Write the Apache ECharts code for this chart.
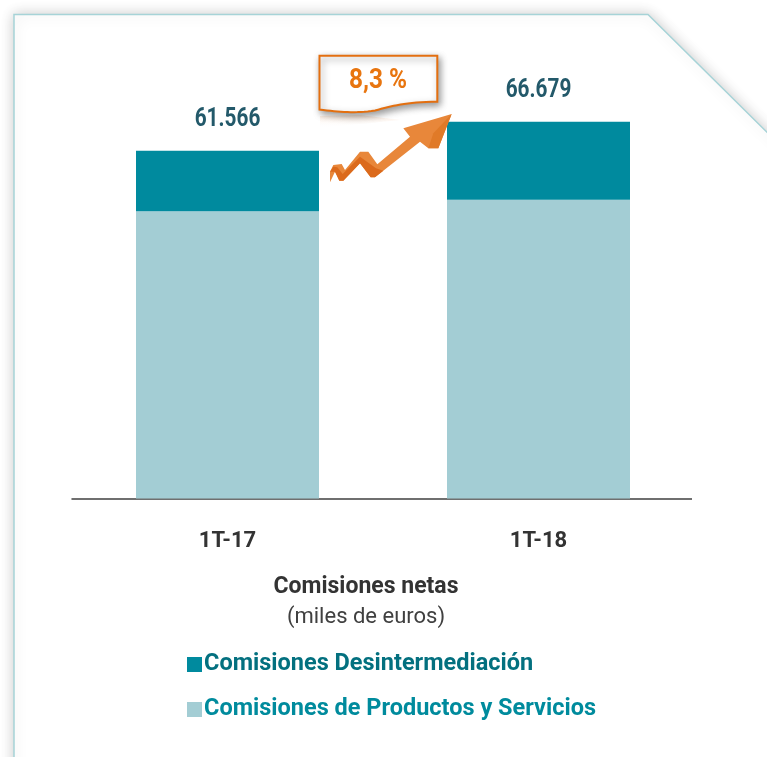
<!DOCTYPE html>
<html><head><meta charset="utf-8">
<style>html,body{margin:0;padding:0;background:#fff}#c{width:767px;height:757px}</style>
<script src="https://cdn.jsdelivr.net/npm/echarts@6/dist/echarts.min.js"></script></head>
<body><div id="c"></div>
<script>
const categories = ['1T-17', '1T-18'];
const productos = [50850, 52870];
const desintermediacion = [10716, 13809];
const totals = ['61.566', '66.679'];
const growthLabel = '8,3 %';
const nameProductos = 'Comisiones de Productos y Servicios';
const nameDesinter = 'Comisiones Desintermediación';

const FONT = 'Roboto,"Liberation Sans",sans-serif';
const chart = echarts.init(document.getElementById('c'), null, {renderer: 'canvas'});
function z(pts){return pts.map(p => [300 + p[0]/3, 40 + p[1]/3]);}
function bez(p0,p1,p2,p3){
  const out = [];
  for (let i = 1; i <= 16; i++) {
    const t = i/16, u = 1-t;
    out.push([0,1].map(k => u*u*u*p0[k] + 3*u*u*t*p1[k] + 3*u*t*t*p2[k] + t*t*t*p3[k]));
  }
  return out;
}
const calloutPts = [[319.5,55.7],[437.3,55.7],[437.3,101.7]]
  .concat(bez([437.3,101.7],[405,102],[392,106],[375,110.5]))
  .concat(bez([375,110.5],[355,113.5],[340,112],[319.5,109.5]));

chart.setOption({
  animation: false,
  backgroundColor: '#fff',
  title: {
    text: 'Comisiones netas', subtext: '(miles de euros)',
    left: 361, textAlign: 'center', top: 571, itemGap: 7,
    textStyle: {fontFamily: FONT, fontSize: 23, fontWeight: 'bold', color: '#333333'},
    subtextStyle: {fontFamily: FONT, fontSize: 22, fontWeight: 'normal', color: '#404040'}
  },
  legend: {
    orient: 'vertical', left: 187, top: 652.5, itemWidth: 15, itemHeight: 15, itemGap: 21, padding: 0,
    icon: 'rect', selectedMode: false,
    data: [
      {name: nameDesinter, textStyle: {color: '#03707F'}},
      {name: nameProductos, textStyle: {color: '#008B9D'}}
    ],
    textStyle: {fontFamily: FONT, fontSize: 23.5, fontWeight: 'bold', padding: [5,0,0,-3]}
  },
  grid: {left: 72, width: 622, top: 103, height: 395.5, containLabel: false},
  xAxis: {
    type: 'category', data: categories,
    axisLine: {lineStyle: {color: '#404040', width: 1.5}},
    axisTick: {show: false},
    axisLabel: {margin: 32, fontFamily: FONT, fontSize: 22, fontWeight: 'bold', color: '#333333'}
  },
  yAxis: {type: 'value', min: 0, max: 70000, show: false, splitLine: {show: false}},
  series: [
    {name: nameProductos, type: 'bar', stack: 'a', barWidth: 183, data: productos,
     itemStyle: {color: '#A3CDD4'}, z: 2},
    {name: nameDesinter, type: 'bar', stack: 'a', barWidth: 183, data: desintermediacion,
     itemStyle: {color: '#008A9E'}, z: 2}
  ]
});

const totalLabels = totals.map((t, i) => {
  const top = chart.convertToPixel({gridIndex: 0}, [i, productos[i] + desintermediacion[i]]);
  return {type: 'text', z: 8, silent: true, x: top[0], y: top[1] - 31, scaleX: 0.8,
    style: {text: t, align: 'center', verticalAlign: 'middle',
      font: 'bold 26px ' + FONT, fill: '#23596A'}};
});

chart.setOption({graphic: [
    {type: 'polygon', z: -10, silent: true,
     shape: {points: [[14,14.5],[648,14.5],[790,155],[790,790],[14,790]]},
     style: {fill: '#fff', stroke: '#A6D3D7', lineWidth: 1.5,
       shadowBlur: 14, shadowColor: 'rgba(0,0,0,0.2)'}},
    {type: 'polygon', z: 5, silent: true,
     shape: {points: z([[90,395],[100,375],[125,372],[135,390],[180,335],[205,335],[232,373],[330,290],[310,265],[455,222],[415,325],[385,325],[360,305],[225,412],[212,412],[180,370],[130,422],[118,422],[105,395],[90,427]])},
     style: {fill: '#E8873A'}},
    {type: 'polygon', z: 6, silent: true,
     shape: {points: z([[90,395],[105,395],[118,422],[130,422],[180,370],[212,412],[225,412],[250,392],[228,385],[180,350],[128,402],[112,382],[100,380]])},
     style: {fill: '#DB6A1C'}},
    {type: 'polygon', z: 6, silent: true,
     shape: {points: z([[455,222],[415,325],[385,325],[400,280]])},
     style: {fill: '#E07A28'}},
    {type: 'polygon', z: 4, silent: true,
     shape: {points: [[320,116],[360,115],[400,120],[320,128]]},
     style: {fill: new echarts.graphic.LinearGradient(0,0,0,1,[{offset:0,color:'rgba(240,170,120,0.25)'},{offset:1,color:'rgba(255,255,255,0)'}])}},
    {type: 'polygon', z: 7, silent: true,
     shape: {points: calloutPts},
     style: {fill: '#fff', stroke: '#E36F10', lineWidth: 2,
       shadowBlur: 7, shadowOffsetX: 2, shadowOffsetY: 3, shadowColor: 'rgba(0,0,0,0.4)'}},
    {type: 'text', z: 8, silent: true, x: 378, y: 81, scaleX: 0.87,
     style: {text: growthLabel, align: 'center', verticalAlign: 'middle',
       font: 'bold 28px ' + FONT, fill: '#E8750F'}},
    {type: 'rect', z: 9, silent: true, shape: {x: 692, y: 495, width: 4, height: 6}, style: {fill: '#fff'}}
  ].concat(totalLabels)});
</script></body></html>
